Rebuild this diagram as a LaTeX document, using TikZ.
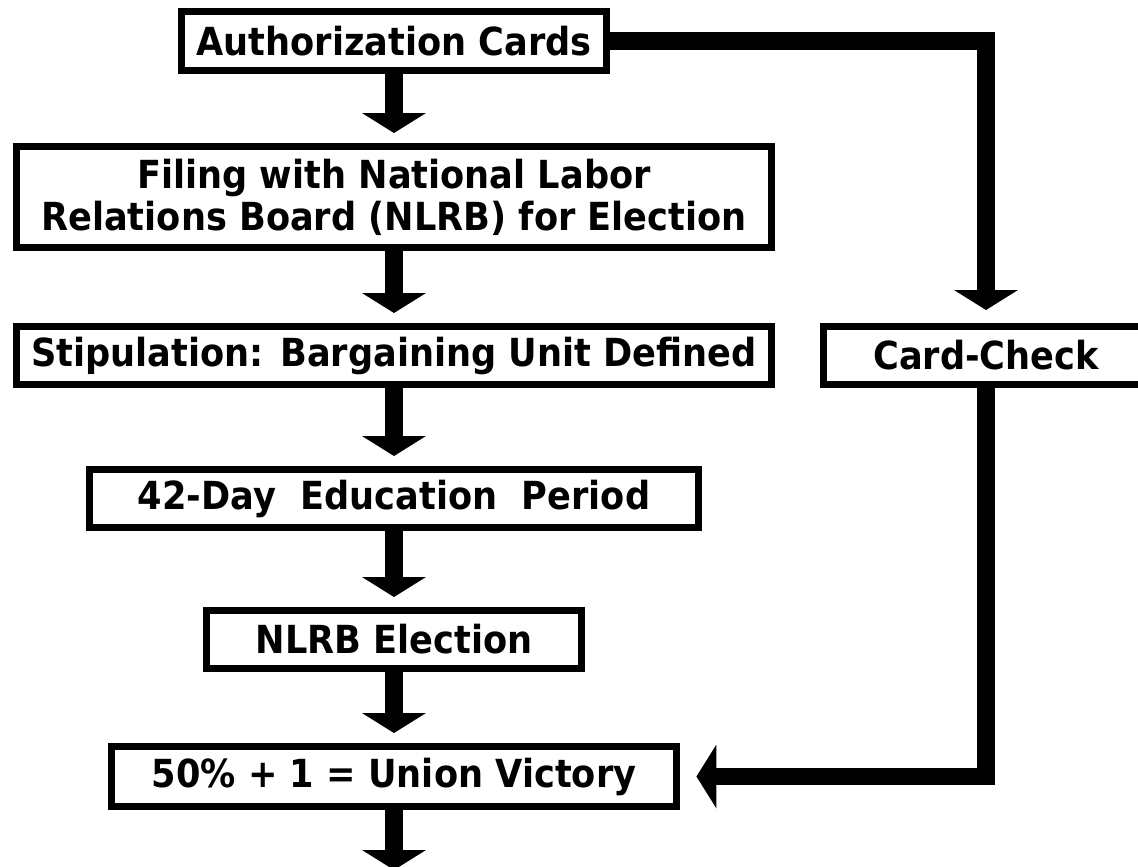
\documentclass[tikz,border=0pt]{standalone}
\usepackage{fontspec}
\setmainfont{DejaVu Sans}[FakeStretch=0.91]
\usetikzlibrary{arrows.meta}

\begin{document}
\begin{tikzpicture}
[x=0.02cm,y=-0.02cm,
  boxDecorate/.style={shape=rectangle,draw,line width=0.14cm,inner sep=0pt,align=center,
    font=\bfseries\fontsize{22}{24}\selectfont},%
  flowDecorate/.style={line width=0.35cm,-{Triangle[width=1.28cm,length=0.4cm,line width=0pt]}}]
\useasboundingbox (0,0) rectangle (1138,866);
%% boxes of the flow
\foreach \nodename/\x/\y/\boxw/\boxh/\txt in {
  auth/394/41/8.5/1.18/{Authorization Cards},
  filing/394/197/15.1/2.02/{Filing with National Labor\\Relations Board (NLRB) for Election},
  stip/394/355.5/15.1/1.16/{Stipulation: Bargaining Unit Defined},
  education/394/498.5/12.18/1.16/{42-Day\ \ Education\ \ Period},
  election/394/639.5/7.5/1.16/{NLRB Election},
  victory/394/776.5/11.32/1.2/{50\% + 1 = Union Victory},
  card/986/355.5/6.5/1.16/{Card-Check}}
{
  \node (\nodename) at (\x,\y) [boxDecorate,minimum width=\boxw cm,minimum height=\boxh cm] {\txt};
}
\coordinate (out) at (394,870);
%% arrows down the main column
\path
\foreach \startnode/\endnode in {
  auth/filing, filing/stip, stip/education, education/election, election/victory}
{
  (\startnode) edge[flowDecorate,shorten >=0.2cm] (\endnode)
};
\draw[flowDecorate] (victory) -- (out);
%% the card-check route
\draw[flowDecorate,shorten >=0.26cm] (auth.east) -| (card.north);
\draw[flowDecorate,shorten >=0.32cm] (card.south) |- (victory.east);
\end{tikzpicture}
\end{document}
